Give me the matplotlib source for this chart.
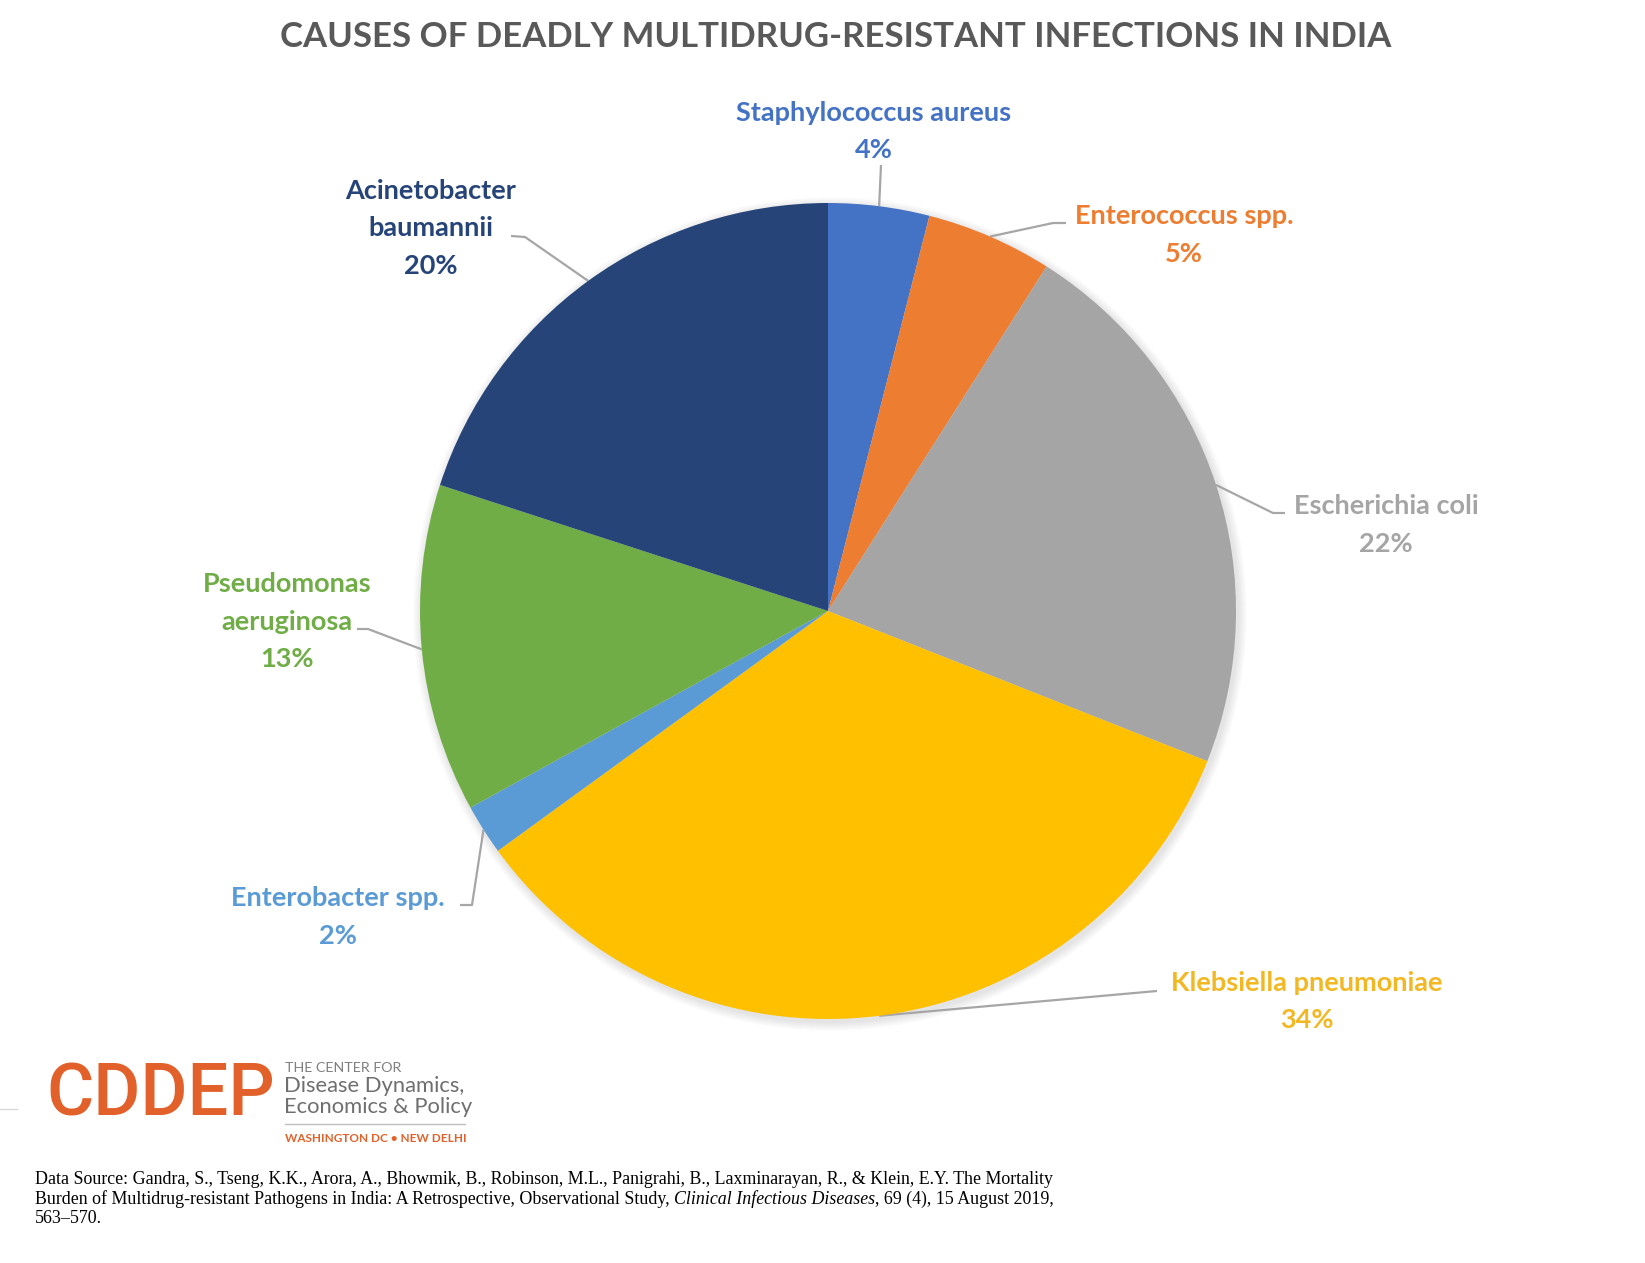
import matplotlib
matplotlib.use("Agg")
import matplotlib.pyplot as plt
from matplotlib.patches import Circle
import numpy as np

W, H = 1645, 1263

# data, clockwise from 12 o'clock
names = [["Staphylococcus aureus"], ["Enterococcus spp."], ["Escherichia coli"],
         ["Klebsiella pneumoniae"], ["Enterobacter spp."], ["Pseudomonas", "aeruginosa"],
         ["Acinetobacter", "baumannii"]]
shares = [4, 5, 22, 34, 2, 13, 20]
colors = ["#4472C4", "#ED7D31", "#A5A5A5", "#FFC000", "#5B9BD5", "#70AD47", "#264478"]
label_colors = ["#4472C4", "#ED7D31", "#A5A5A5", "#F2B824", "#5B9BD5", "#70AD47", "#264478"]

# label placement (pixels, measured from top) and leader elbow points
label_x = [874, 1184, 1386, 1307, 338, 287, 431]
label_y0 = [112, 215, 505, 982, 897, 583, 190]
elbows = [[(881, 165)], [(1053, 223), (1066, 223)], [(1273, 513), (1285, 513)],
          [(1157, 991)], [(472, 905), (460, 905)], [(368, 629), (357, 629)],
          [(525, 237), (511, 236)]]
gap = 37.5

plt.rcParams['font.family'] = ['Lato', 'DejaVu Sans']

fig = plt.figure(figsize=(W / 100, H / 100), dpi=100)
fig.patch.set_facecolor('white')
ax = fig.add_axes([0, 0, 1, 1])

def Y(y):
    return H - y

cx, cy, r = 828, 611, 408

# soft shadow under the pie
for k in range(1, 10):
    ax.add_patch(Circle((cx + 2, Y(cy) - 3), r + k * 1.0, color='black',
                        alpha=0.012, lw=0, zorder=0.1))

wedges, _ = ax.pie(shares, colors=colors, startangle=90, counterclock=False,
                   center=(cx, Y(cy)), radius=r, frame=True,
                   wedgeprops=dict(linewidth=0, zorder=1))
ax.set_xlim(0, W)
ax.set_ylim(0, H)
ax.set_aspect('equal')
ax.axis('off')

for w, nm, val, col, lx, ly, pts in zip(wedges, names, shares, label_colors,
                                        label_x, label_y0, elbows):
    mid = np.deg2rad((w.theta1 + w.theta2) / 2)
    ex = cx + r * np.cos(mid)
    ey = Y(cy) + r * np.sin(mid)
    xs = [ex] + [p[0] for p in pts]
    ys = [ey] + [Y(p[1]) for p in pts]
    ax.plot(xs, ys, color='#A6A6A6', lw=1.6, solid_capstyle='butt', zorder=0.5)
    lines = nm + ["%d%%" % val]
    for i, s in enumerate(lines):
        ax.text(lx, Y(ly + i * gap + 9), s, color=col, fontsize=19.5,
                fontweight='bold', ha='center', va='baseline')

fig.text(836 / W, 1 - 47 / H, "CAUSES OF DEADLY MULTIDRUG-RESISTANT INFECTIONS IN INDIA",
         ha='center', va='baseline', fontsize=25, fontweight='bold', color='#595959')

# logo
orange = '#E2612B'
fig.text(46 / W, 1 - 1115 / H, "CDDEP", fontsize=52, color=orange, ha='left', va='baseline',
         family=['Roboto', 'DejaVu Sans'], fontweight='medium')
fig.text(285 / W, 1 - 1072 / H, "THE CENTER FOR", fontsize=10.3, color='#7F7F7F',
         ha='left', va='baseline')
fig.text(284 / W, 1 - 1092 / H, "Disease Dynamics,", fontsize=15.8, color='#6F6F6F',
         ha='left', va='baseline')
fig.text(284 / W, 1 - 1113 / H, "Economics & Policy", fontsize=15.8, color='#6F6F6F',
         ha='left', va='baseline')
ax.plot([285, 465], [Y(1124), Y(1124)], color='#BFBFBF', lw=1)
ax.plot([0, 17], [Y(1109), Y(1109)], color='#D9D9D9', lw=1)
fig.text(285 / W, 1 - 1142 / H, "WASHINGTON DC \u2022 NEW DELHI", fontsize=8.5, color=orange,
         fontweight='bold', ha='left', va='baseline')

# source
serif = ['Liberation Serif', 'DejaVu Serif']
src1 = ("Data Source: Gandra, S., Tseng, K.K., Arora, A., Bhowmik, B., Robinson, M.L., "
        "Panigrahi, B., Laxminarayan, R., & Klein, E.Y. The Mortality")
src2a = ("Burden of Multidrug-resistant Pathogens in India: A Retrospective, "
         "Observational Study, ")
src2b = "Clinical Infectious Diseases"
src2c = ", 69 (4), 15 August 2019,"
src3 = "563\u2013570."
fs = 12.9
x0 = 35
fig.text(x0 / W, 1 - 1184 / H, src1, fontsize=fs, family=serif, ha='left', va='baseline')
fig.canvas.draw()
rend = fig.canvas.get_renderer()
t = fig.text(x0 / W, 1 - 1204 / H, src2a, fontsize=fs, family=serif, ha='left', va='baseline')
xx = x0 + t.get_window_extent(rend).width
t = fig.text(xx / W, 1 - 1204 / H, src2b, fontsize=fs, family=serif, style='italic',
             ha='left', va='baseline')
xx += t.get_window_extent(rend).width
fig.text(xx / W, 1 - 1204 / H, src2c, fontsize=fs, family=serif, ha='left', va='baseline')
fig.text(x0 / W, 1 - 1223 / H, src3, fontsize=fs, family=serif, ha='left', va='baseline')

fig.savefig("out.png", dpi=100, facecolor='white')
